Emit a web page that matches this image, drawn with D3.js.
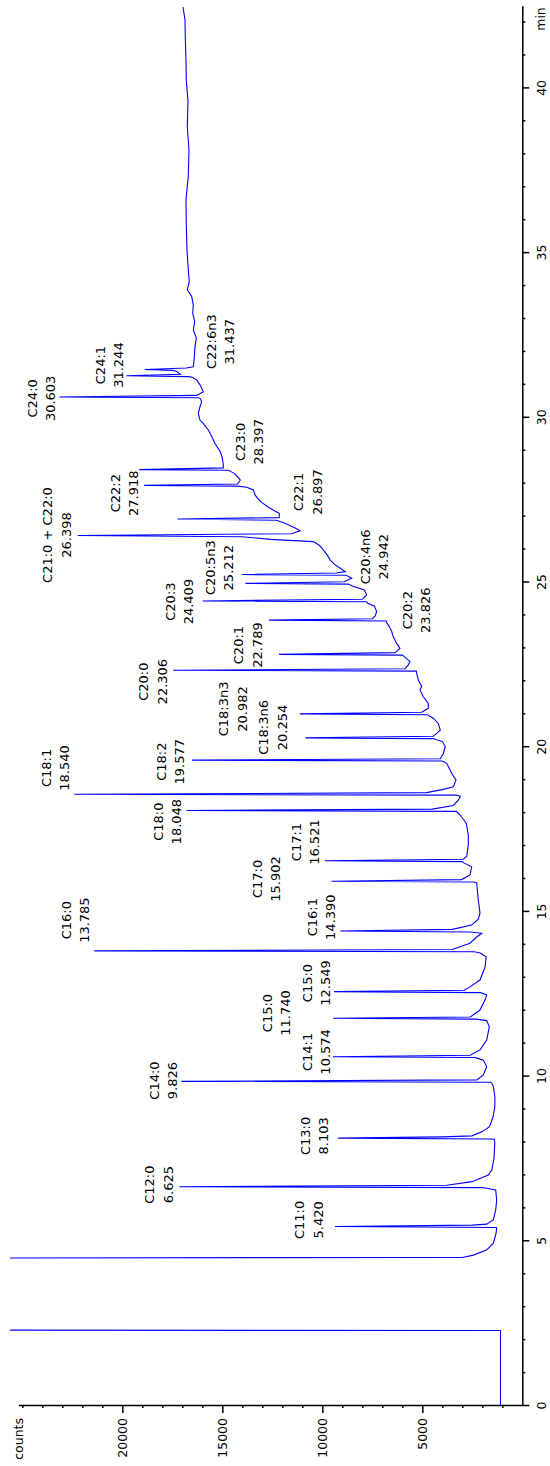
<!DOCTYPE html>
<html><head><meta charset="utf-8">
<script src="https://cdn.jsdelivr.net/npm/d3@7"></script>
<style>html,body{margin:0;padding:0;background:#fff;} svg{display:block;}</style>
</head><body>
<svg id="chart" width="550" height="1466"></svg>
<script>
// ---- data ----
const peakNames = ["C11:0","C12:0","C13:0","C14:0","C14:1","C15:0","C15:0","C16:0","C16:1","C17:0","C17:1","C18:0","C18:1","C18:2","C18:3n6","C18:3n3","C20:0","C20:1","C20:2","C20:3","C20:4n6","C20:5n3","C21:0 + C22:0","C22:1","C22:2","C23:0","C24:0","C24:1","C22:6n3"];
const peakTimes = [5.420,6.625,8.103,9.826,10.574,11.740,12.549,13.785,14.390,15.902,16.521,18.048,18.540,19.577,20.254,20.982,22.306,22.789,23.826,24.409,24.942,25.212,26.398,26.897,27.918,28.397,30.603,31.244,31.437];
const peakHeights = [9365,17150,9215,17040,9470,9460,9410,21400,9090,9540,9875,16790,22400,16510,10840,11125,17460,12160,12660,15990,13840,14010,22230,17240,18910,19160,23150,19790,18875];
// label anchors (centre time in min, counts at the baseline of the second line)
const labelTimes = [5.62,6.69,8.17,9.85,10.72,11.90,12.81,14.72,14.81,15.97,17.09,17.71,19.34,19.53,20.57,21.13,21.96,23.07,24.13,24.39,25.75,25.42,26.41,27.72,27.68,29.24,30.56,31.57,32.28];
const labelCounts = [9980,17480,9715,17250,9615,11615,9615,21665,9365,12115,10150,17065,22665,16915,11780,13780,17780,13030,4615,16450,6700,14450,22580,10030,19200,12950,23365,19950,14415];

// signal between the apexes: [time (min), counts]
const tracePoints = [
 [0,1090],[2.26,1090],[2.29,60000],[4.44,60000],
 [4.48,3000],[4.55,2440],[4.71,1775],[4.91,1445],[5.21,1315],[5.36,1280],[5.39,1300],
 [5.46,2500],[5.49,1780],[5.62,1450],[5.92,1330],[6.22,1280],[6.53,1330],[6.58,1780],[6.60,2000],
 [6.67,3780],[6.78,2510],[6.98,1700],[7.13,1525],[7.49,1415],[7.95,1375],[8.06,1400],[8.075,1500],
 [8.14,4000],[8.17,2515],[8.30,2000],[8.45,1640],[8.75,1460],[9.05,1375],[9.35,1370],[9.66,1445],[9.78,1525],[9.80,1600],
 [9.87,2270],[10.02,1950],[10.27,1780],[10.47,1950],[10.53,2270],[10.55,2400],
 [10.62,2600],[10.78,2115],[11.08,1780],[11.48,1650],[11.67,1780],[11.715,2300],
 [11.78,2600],[11.99,2115],[12.30,1860],[12.45,1780],[12.52,2100],
 [12.59,2900],[12.70,2600],[12.90,2115],[13.30,1860],[13.61,1810],[13.72,2100],[13.76,2400],
 [13.83,3500],[14.02,2615],[14.20,2300],[14.32,2030],[14.36,2600],
 [14.44,3500],[14.57,2530],[14.75,2200],[14.93,2115],[15.33,2200],[15.84,2280],[15.875,2400],
 [15.95,3030],[16.09,2615],[16.34,2530],[16.45,2900],[16.495,3000],
 [16.57,2950],[16.65,2780],[17.00,2700],[17.30,2700],[17.66,2800],[17.91,3110],[18.02,3300],
 [18.09,4500],[18.20,3450],[18.37,3190],[18.48,3100],[18.515,3300],
 [18.59,4780],[18.69,3950],[18.77,3450],[18.97,3315],[19.18,3530],[19.48,3780],[19.55,4000],
 [19.62,4100],[19.78,3950],[19.99,3850],[20.14,4000],[20.22,4400],[20.23,4450],
 [20.30,4450],[20.49,4100],[20.69,4200],[20.85,4450],[20.94,4700],[20.955,4750],
 [21.03,5030],[21.15,4700],[21.30,4700],[21.50,4950],[21.71,5115],[21.81,5030],[22.01,5200],[22.21,5280],[22.28,5300],
 [22.35,5865],[22.47,5700],[22.57,5615],[22.72,5900],[22.765,6000],
 [22.84,6360],[22.97,6115],[23.12,6280],[23.32,6450],[23.48,6530],[23.63,6650],[23.75,6780],[23.80,6800],
 [23.87,7500],[23.95,7365],[24.08,7280],[24.26,7400],[24.33,7700],[24.385,7800],
 [24.46,8000],[24.59,7780],[24.74,7900],[24.86,8500],[24.92,8700],
 [24.99,8900],[25.10,8530],[25.19,8800],
 [25.26,9300],[25.30,8850],[25.50,9350],[25.65,9600],[25.80,9750],[26.00,10000],[26.10,10150],[26.21,10450],[26.28,12600],[26.36,14000],
 [26.45,11530],[26.54,11115],[26.61,11300],[26.77,11865],[26.86,12300],
 [26.94,12150],[27.07,12150],[27.15,12400],[27.27,12730],[27.40,13030],[27.50,13200],[27.63,13365],[27.78,13450],[27.86,13780],[27.895,14200],
 [27.96,14250],[28.08,14100],[28.26,14350],[28.35,14600],[28.375,14700],
 [28.45,14950],[28.54,14950],[28.75,15000],[28.94,15100],[29.19,15365],[29.40,15530],[29.60,15700],[29.80,15950],[29.90,16115],[30.10,16200],[30.31,16115],[30.46,16030],[30.56,16115],[30.58,16200],
 [30.65,16280],[30.76,15950],[30.97,16115],[31.12,16280],[31.20,16500],[31.22,16700],
 [31.29,17100],[31.38,17300],[31.41,17500],
 [31.48,16800],[31.52,16450],[31.80,16400],[32.13,16365],[32.40,16300],[32.64,16450],[32.90,16380],[33.14,16480],[33.40,16450],[33.65,16530],[33.85,16750],[34.10,16650],[34.46,16700],
 [35.06,16765],[35.80,16800],[36.60,16815],[37.30,16700],[38.10,16665],[38.80,16750],[39.60,16715],[40.20,16800],[40.80,16815],[41.50,16850],[42.05,16865],[42.44,16965]
];

const countMajor = [5000,10000,15000,20000];
const countMinor = [1000,2000,3000,4000,6000,7000,8000,9000,11000,12000,13000,14000,16000,17000,18000,19000,21000,22000,23000,24000,25000];
const timeMajor = [0,5,10,15,20,25,30,35,40];
const timeMinor = [1,2,3,4,6,7,8,9,11,12,13,14,16,17,18,19,21,22,23,24,26,27,28,29,31,32,33,34,36,37,38,39,41,42];

// ---- drawing ----
const svg = d3.select("#chart");
const x = d3.scaleLinear().domain([0, 25200]).range([522.3, 18.3]);
const y = d3.scaleLinear().domain([0, 42.48]).range([1405, 5.7]);
const axisFont = "12.5px 'DejaVu Sans', sans-serif";

svg.append("defs").append("clipPath").attr("id","plotclip")
  .append("rect").attr("x",10).attr("y",0).attr("width",513).attr("height",1405);

// trace = signal points + peak apexes, in time order
const pts = tracePoints.map(p => ({t:p[0], c:p[1]}))
  .concat(peakTimes.map((t,i) => ({t:t, c:peakHeights[i]})))
  .sort((a,b) => a.t - b.t);

svg.append("path")
  .attr("clip-path","url(#plotclip)")
  .attr("d", d3.line().x(d => x(d.c)).y(d => y(d.t))(pts))
  .attr("fill","none").attr("stroke","#0000ff").attr("stroke-width",1.1);

// counts axis (bottom)
const gx = svg.append("g").attr("transform","translate(0,1405)");
gx.call(d3.axisBottom(x).tickValues(countMajor).tickSize(8).tickSizeOuter(0).tickFormat(d3.format("d")));
gx.append("g").call(d3.axisBottom(x).tickValues(countMinor).tickSize(3).tickSizeOuter(0).tickFormat(""))
  .select(".domain").remove();
gx.selectAll("path,line").attr("stroke","#000").attr("stroke-width",1.5);
gx.selectAll("text").attr("transform","rotate(-90)").attr("x",-13).attr("y",0).attr("dy","0.35em")
  .attr("text-anchor","end").style("font", axisFont).attr("fill","#000");

// time axis (right)
const gy = svg.append("g").attr("transform","translate(522.3,0)");
gy.call(d3.axisRight(y).tickValues(timeMajor).tickSize(7).tickSizeOuter(0).tickFormat(d3.format("d")));
gy.append("g").call(d3.axisRight(y).tickValues(timeMinor).tickSize(3).tickSizeOuter(0).tickFormat(""))
  .select(".domain").remove();
gy.selectAll("path,line").attr("stroke","#000").attr("stroke-width",1.5);
gy.selectAll("text").attr("transform","rotate(-90)").attr("x",0).attr("y",19).attr("dy","0.35em")
  .attr("text-anchor","middle").style("font", axisFont).attr("fill","#000");

// axis titles
svg.append("text").attr("transform","translate(541,19) rotate(-90)").attr("dy","0.35em")
  .attr("text-anchor","middle").style("font", axisFont).text("min");
svg.append("text").attr("transform","translate(19,1418) rotate(-90)").attr("dy","0.35em")
  .attr("text-anchor","end").style("font", axisFont).text("counts");

// peak labels
const fmt = d3.format(".3f");
const lab = svg.append("g").selectAll("g").data(peakNames).join("g")
  .attr("transform",(d,i) => `translate(${x(labelCounts[i])},${y(labelTimes[i])}) rotate(-90)`)
  .style("font","13px 'DejaVu Sans', sans-serif").attr("fill","#000").attr("text-anchor","middle");
lab.append("text").attr("y",-18.5).text(d => d);
lab.append("text").attr("y",0).text((d,i) => fmt(peakTimes[i]));
</script>
</body></html>
